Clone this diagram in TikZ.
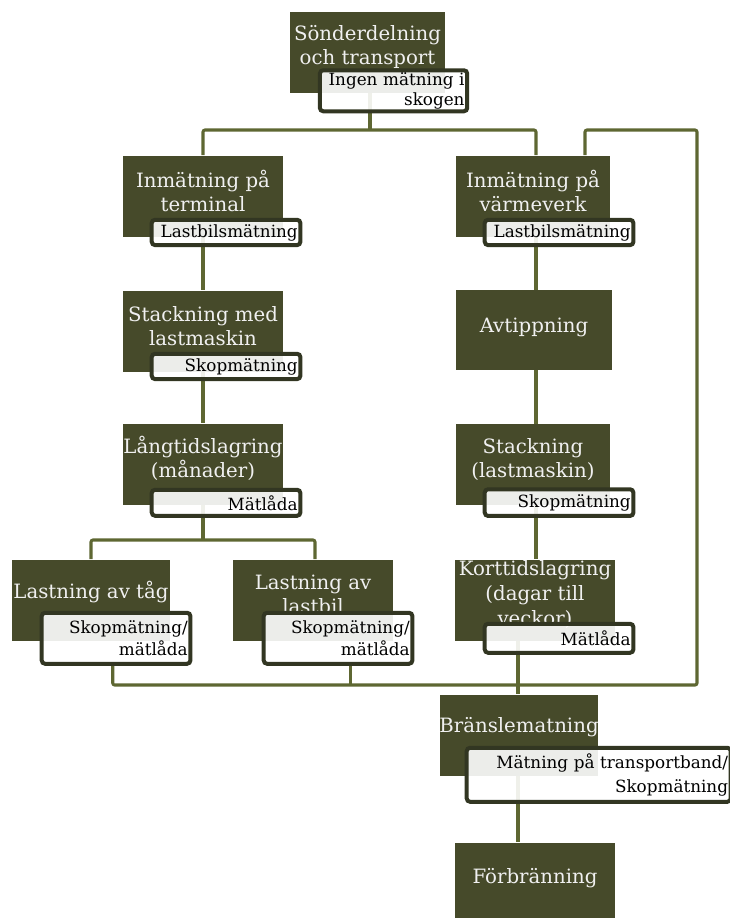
\documentclass[tikz,border=0pt]{standalone}
\usepackage{fontspec}
\setmainfont{DejaVu Serif}
\usepackage{tikz}
\usetikzlibrary{backgrounds}

\definecolor{boxgreen}{RGB}{70,74,42}
\definecolor{linkgreen}{RGB}{94,103,50}
\definecolor{meterline}{RGB}{50,54,34}

\tikzset{
  stage/.style={fill=boxgreen, minimum width=120pt, minimum height=60.75pt, inner sep=0pt},
  stagetext/.style={text=white!94!black, align=center, yshift=4pt,
    font=\fontsize{14.8}{18}\selectfont},
  meter/.style={draw=meterline, line width=3pt, rounded corners=2.5pt,
    fill=white, fill opacity=0.9, text opacity=1, align=right,
    text width=107.5pt, inner xsep=2pt, inner ysep=0pt, minimum height=19pt,
    anchor=north west, font=\fontsize{12.6}{16}\selectfont},
  link/.style={draw=linkgreen, line width=2.3pt, rounded corners=1.5pt}
}

\begin{document}
\begin{tikzpicture}[x=0.75pt, y=-0.75pt]
\useasboundingbox (0,0) rectangle (729,918);

% stages
\node[stage, minimum width=116pt, label={[stagetext]center:Sönderdelning\\och transport}] (top) at (367.5,52.5) {};
\node[stage, label={[stagetext]center:Inmätning på\\terminal}] (term) at (203,196) {};
\node[stage, minimum width=115.5pt, label={[stagetext]center:Inmätning på\\värmeverk}] (verk) at (533,196) {};
\node[stage, label={[stagetext]center:Stackning med\\lastmaskin}] (stackA) at (203,331) {};
\node[stage, minimum width=117pt, minimum height=60pt, label={[stagetext, yshift=-2pt]center:Avtippning}] (tipp) at (534,330) {};
\node[stage, label={[stagetext]center:Långtidslagring\\(månader)}] (lang) at (203,464) {};
\node[stage, minimum width=115.5pt, label={[stagetext]center:Stackning\\(lastmaskin)}] (stackB) at (533,464.5) {};
\node[stage, minimum width=118.5pt, label={[stagetext, yshift=2pt]center:Lastning av tåg}] (tag) at (91,600) {};
\node[stage, label={[stagetext]center:Lastning av\\lastbil}] (bil) at (313,600) {};
\node[stage, label={[stagetext, font=\fontsize{14.8}{19}\selectfont]center:Korttidslagring\\(dagar till\\veckor)}] (kort) at (535,600) {};
\node[stage, minimum width=118.5pt, label={[stagetext, yshift=2pt]center:Bränslematning}] (brans) at (519,735) {};
\node[stage, label={[stagetext]center:Förbränning}] (forb) at (535,883) {};

% measuring methods
\node[meter, text width=106.5pt, minimum height=30.75pt, font=\fontsize{12.6}{15}\selectfont] (mtop) at ([shift={(28,-25)}]top.south west) {Ingen mätning i\\skogen};
\node[meter] (mterm) at ([shift={(27,-19)}]term.south west) {Lastbilsmätning};
\node[meter] (mverk) at ([shift={(27,-19)}]verk.south west) {Lastbilsmätning};
\node[meter] (mstackA) at ([shift={(27,-20)}]stackA.south west) {Skopmätning};
\node[meter, minimum height=19.5pt] (mlang) at ([shift={(27,-17)}]lang.south west) {Mätlåda};
\node[meter, minimum height=20pt] (mstackB) at ([shift={(27,-18)}]stackB.south west) {Skopmätning};
\node[meter, minimum height=38.25pt, font=\fontsize{12.6}{17}\selectfont] (mtag) at ([shift={(28,-30)}]tag.south west) {Skopmätning/\\mätlåda};
\node[meter, minimum height=38.25pt, font=\fontsize{12.6}{17}\selectfont] (mbil) at ([shift={(29,-30)}]bil.south west) {Skopmätning/\\mätlåda};
\node[meter, minimum height=21.75pt] (mkort) at ([shift={(28,-19)}]kort.south west) {Mätlåda};
\node[meter, text width=194pt, minimum height=40.5pt, font=\fontsize{12.6}{18}\selectfont] (mbrans) at ([shift={(25,-30)}]brans.south west) {Mätning på transportband/\\Skopmätning};

% connectors
\begin{scope}[on background layer]
\coordinate (split) at (370,130);
\coordinate (fork) at (203,540);
\coordinate (merge) at (518,685);
\coordinate (loop) at (697,130);
\coordinate (rcol) at (536,0);  %<-- x of the right column links

\draw[link] (top.south -| split) -- (split);
\draw[link] (term.north) |- (split) -| (verk.north -| rcol);
\draw[link] (term) -- (stackA);
\draw[link] (stackA) -- (lang);
\draw[link] (lang.south) -- (fork);
\draw[link] (tag.north) |- (fork) -| ([xshift=1.5pt]bil.north);
\draw[link] (verk.south -| rcol) -- (tipp.north -| rcol);
\draw[link] (tipp.south -| rcol) -- (stackB.north -| rcol);
\draw[link] (stackB.south -| rcol) -- (kort.north -| rcol);
\draw[link] ([xshift=-2.5pt]mtag.south) |- (loop |- merge) -- (loop) -| ([xshift=39pt]verk.north);
\draw[link] ([xshift=9pt]mbil.south) -- ([xshift=9pt]mbil.south |- merge);
\draw[link] (kort.south -| merge) -- (brans.north -| merge);
\draw[link] (brans.south -| merge) -- (forb.north -| merge);
\end{scope}
\end{tikzpicture}
\end{document}
